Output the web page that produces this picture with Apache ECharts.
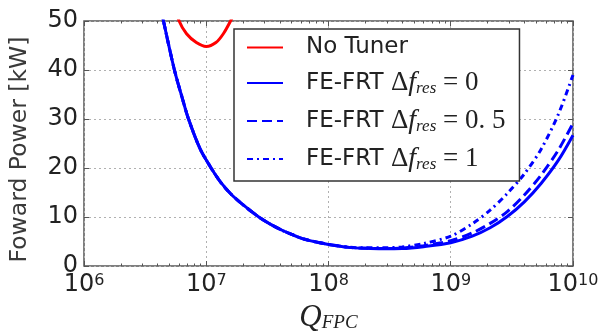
<!DOCTYPE html>
<html>
<head>
<meta charset="utf-8">
<script src="https://cdn.jsdelivr.net/npm/echarts@6/dist/echarts.min.js"></script>
<style>
html,body{margin:0;padding:0;background:#fff;}
#chart{width:607px;height:331px;}
</style>
</head>
<body>
<div id="chart"></div>
<script>
// ---- data ----
const seriesNames = ['No Tuner', 'FE-FRT d0', 'FE-FRT d0.5', 'FE-FRT d1'];

const qRed = [5.6e6, 6.0e6, 6.9e6, 8.3e6, 1.0e7, 1.2e7, 1.38e7, 1.58e7, 1.8e7];
const pRed = [53, 50, 47.4, 45.6, 44.8, 45.6, 47.4, 50, 53];

const qBlue = [3.98e6, 4.47e6, 5.01e6, 5.58e6, 6.31e6, 7.16e6, 8.91e6, 1.096e7, 1.32e7, 1.62e7, 2.09e7, 2.69e7,
               3.31e7, 4.17e7, 5.01e7, 6.12e7, 7.76e7, 1.0e8, 1.47e8, 2.0e8, 2.75e8, 4.0e8, 6.0e8,
               1.0e9, 1.5e9, 2.1e9, 2.9e9, 4.0e9, 5.5e9, 7.6e9, 1.0e10];
const pDf0  = [56, 50, 44.3, 39.3, 34.6, 30, 23.9, 20, 17.0, 14.5, 12.1, 10.0,
               8.6, 7.3, 6.45, 5.6, 4.95, 4.4, 3.8, 3.6, 3.5, 3.55, 3.95,
               4.75, 6.1, 7.8, 10.1, 13.1, 16.9, 21.6, 26.7];
const pDf05 = [56, 50, 44.3, 39.3, 34.6, 30, 23.9, 20, 17.0, 14.5, 12.1, 10.0,
               8.6, 7.3, 6.45, 5.6, 4.95, 4.4, 3.8, 3.62, 3.55, 3.65, 4.15,
               5.15, 6.75, 8.7, 11.1, 14.5, 18.6, 23.7, 29.1];
const pDf1  = [56, 50, 44.3, 39.3, 34.6, 30, 23.9, 20, 17.0, 14.5, 12.1, 10.0,
               8.6, 7.3, 6.45, 5.6, 4.95, 4.42, 3.85, 3.7, 3.7, 3.9, 4.6,
               6.1, 8.6, 11.4, 14.8, 18.8, 23.9, 31.0, 39.0];

const xMajorTicks = [1e6, 1e7, 1e8, 1e9, 1e10];
const yTicks = [0, 10, 20, 30, 40, 50];

// minor tick positions (2..9 in each decade)
const xMinorTicks = [];
for (let d = 0; d < xMajorTicks.length - 1; d++) {
  for (let k = 2; k <= 9; k++) xMinorTicks.push(k * xMajorTicks[d]);
}
function zip(a, b) { return a.map((v, i) => [v, b[i]]); }

const chart = echarts.init(document.getElementById('chart'), null, {renderer: 'canvas'});

const frame = '#555';
const gridLine = {show: true, lineStyle: {color: '#b0b0b0', type: [2, 3], width: 1}};
const sansFont = 'DejaVu Sans';
const serif = 'Liberation Serif';

function xAxisDef(pos, minor, main) {
  return {
    type: 'log', logBase: 10, min: 1e6, max: 1e10, position: pos, gridIndex: 0,
    axisLine: {show: false},
    axisTick: minor
      ? {show: true, inside: true, length: 2.5, lineStyle: {color: frame, width: 1}, customValues: xMinorTicks}
      : {show: true, inside: true, length: 5, lineStyle: {color: frame, width: 1}},
    axisLabel: main ? {
      show: true, margin: 7,
      formatter: v => '{b|10}{s|' + Math.round(Math.log10(v)) + '}',
      rich: {
        b: {fontFamily: sansFont, fontSize: 24, color: '#222'},
        s: {fontFamily: sansFont, fontSize: 16, color: '#222', verticalAlign: 'top'}
      }
    } : {show: false},
    splitLine: main ? gridLine : {show: false},
    minorTick: {show: false}
  };
}

const xAxes = [xAxisDef('bottom', false, true), xAxisDef('bottom', true, false),
               xAxisDef('top', false, false), xAxisDef('top', true, false)];
xAxes[0].name = '{q|Q}{sub|FPC}';
xAxes[0].nameLocation = 'middle';
xAxes[0].nameGap = 35;
xAxes[0].nameTextStyle = {
  rich: {
    q: {fontFamily: serif, fontStyle: 'italic', fontSize: 31, color: '#222'},
    sub: {fontFamily: serif, fontStyle: 'italic', fontSize: 19, color: '#222', verticalAlign: 'bottom'}
  }
};

function yAxisDef(pos, main) {
  return {
    type: 'value', min: 0, max: 50, interval: 10, position: pos,
    axisLine: {show: false},
    axisTick: {show: true, inside: true, length: 5, lineStyle: {color: frame, width: 1}},
    axisLabel: main ? {show: true, margin: 6, fontFamily: sansFont, fontSize: 24, color: '#222'} : {show: false},
    splitLine: main ? gridLine : {show: false}
  };
}
const yAxes = [yAxisDef('left', true), yAxisDef('right', false)];
yAxes[0].name = 'Foward Power [kW]';
yAxes[0].nameLocation = 'middle';
yAxes[0].nameGap = 52;
yAxes[0].nameTextStyle = {fontFamily: sansFont, fontSize: 23.5, color: '#3a3a3a', padding: [0, 12, 0, 0]};

const legendLabels = {
  'No Tuner': '{n|No Tuner}',
  'FE-FRT d0': '{n|FE-FRT }{m|Δ}{i|f}{sub|res}{m| = 0}',
  'FE-FRT d0.5': '{n|FE-FRT }{m|Δ}{i|f}{sub|res}{m| = 0. 5}',
  'FE-FRT d1': '{n|FE-FRT }{m|Δ}{i|f}{sub|res}{m| = 1}'
};

function lineSeries(name, q, p, color, type) {
  return {
    name: name, type: 'line', xAxisIndex: 0, yAxisIndex: 0,
    data: zip(q, p), symbol: 'none', smooth: 0.3, clip: true,
    lineStyle: {color: color, width: 3, type: type},
    itemStyle: {color: color},
    emphasis: {disabled: true}, z: 3
  };
}

const option = {
  animation: false,
  backgroundColor: '#fff',
  grid: {left: 84, right: 34, top: 21, bottom: 65, outerBoundsMode: 'none', containLabel: false,
         show: true, borderColor: frame, borderWidth: 1.5, backgroundColor: 'transparent'},
  xAxis: xAxes,
  yAxis: yAxes,
  legend: {
    orient: 'vertical', left: 234, top: 29,
    padding: [7, 14, 8, 12], itemGap: 10, itemWidth: 36, itemHeight: 14,
    borderColor: '#333', borderWidth: 1.5, backgroundColor: '#fff',
    data: seriesNames,
    itemStyle: {opacity: 0},
    formatter: n => legendLabels[n],
    textStyle: {
      padding: [0, 0, 0, 18],
      rich: {
        n: {fontFamily: sansFont, fontSize: 23, color: '#222', lineHeight: 27},
        m: {fontFamily: serif, fontSize: 27, color: '#222'},
        i: {fontFamily: serif, fontStyle: 'italic', fontSize: 28, color: '#222'},
        sub: {fontFamily: serif, fontStyle: 'italic', fontSize: 17, color: '#222', verticalAlign: 'bottom'}
      }
    }
  },
  series: [
    lineSeries(seriesNames[0], qRed, pRed, '#ff0000', 'solid'),
    lineSeries(seriesNames[1], qBlue, pDf0, '#0000ff', 'solid'),
    lineSeries(seriesNames[2], qBlue, pDf05, '#0000ff', [10, 5]),
    lineSeries(seriesNames[3], qBlue, pDf1, '#0000ff', [6, 4, 2, 4])
  ]
};
chart.setOption(option);
</script>
</body>
</html>
